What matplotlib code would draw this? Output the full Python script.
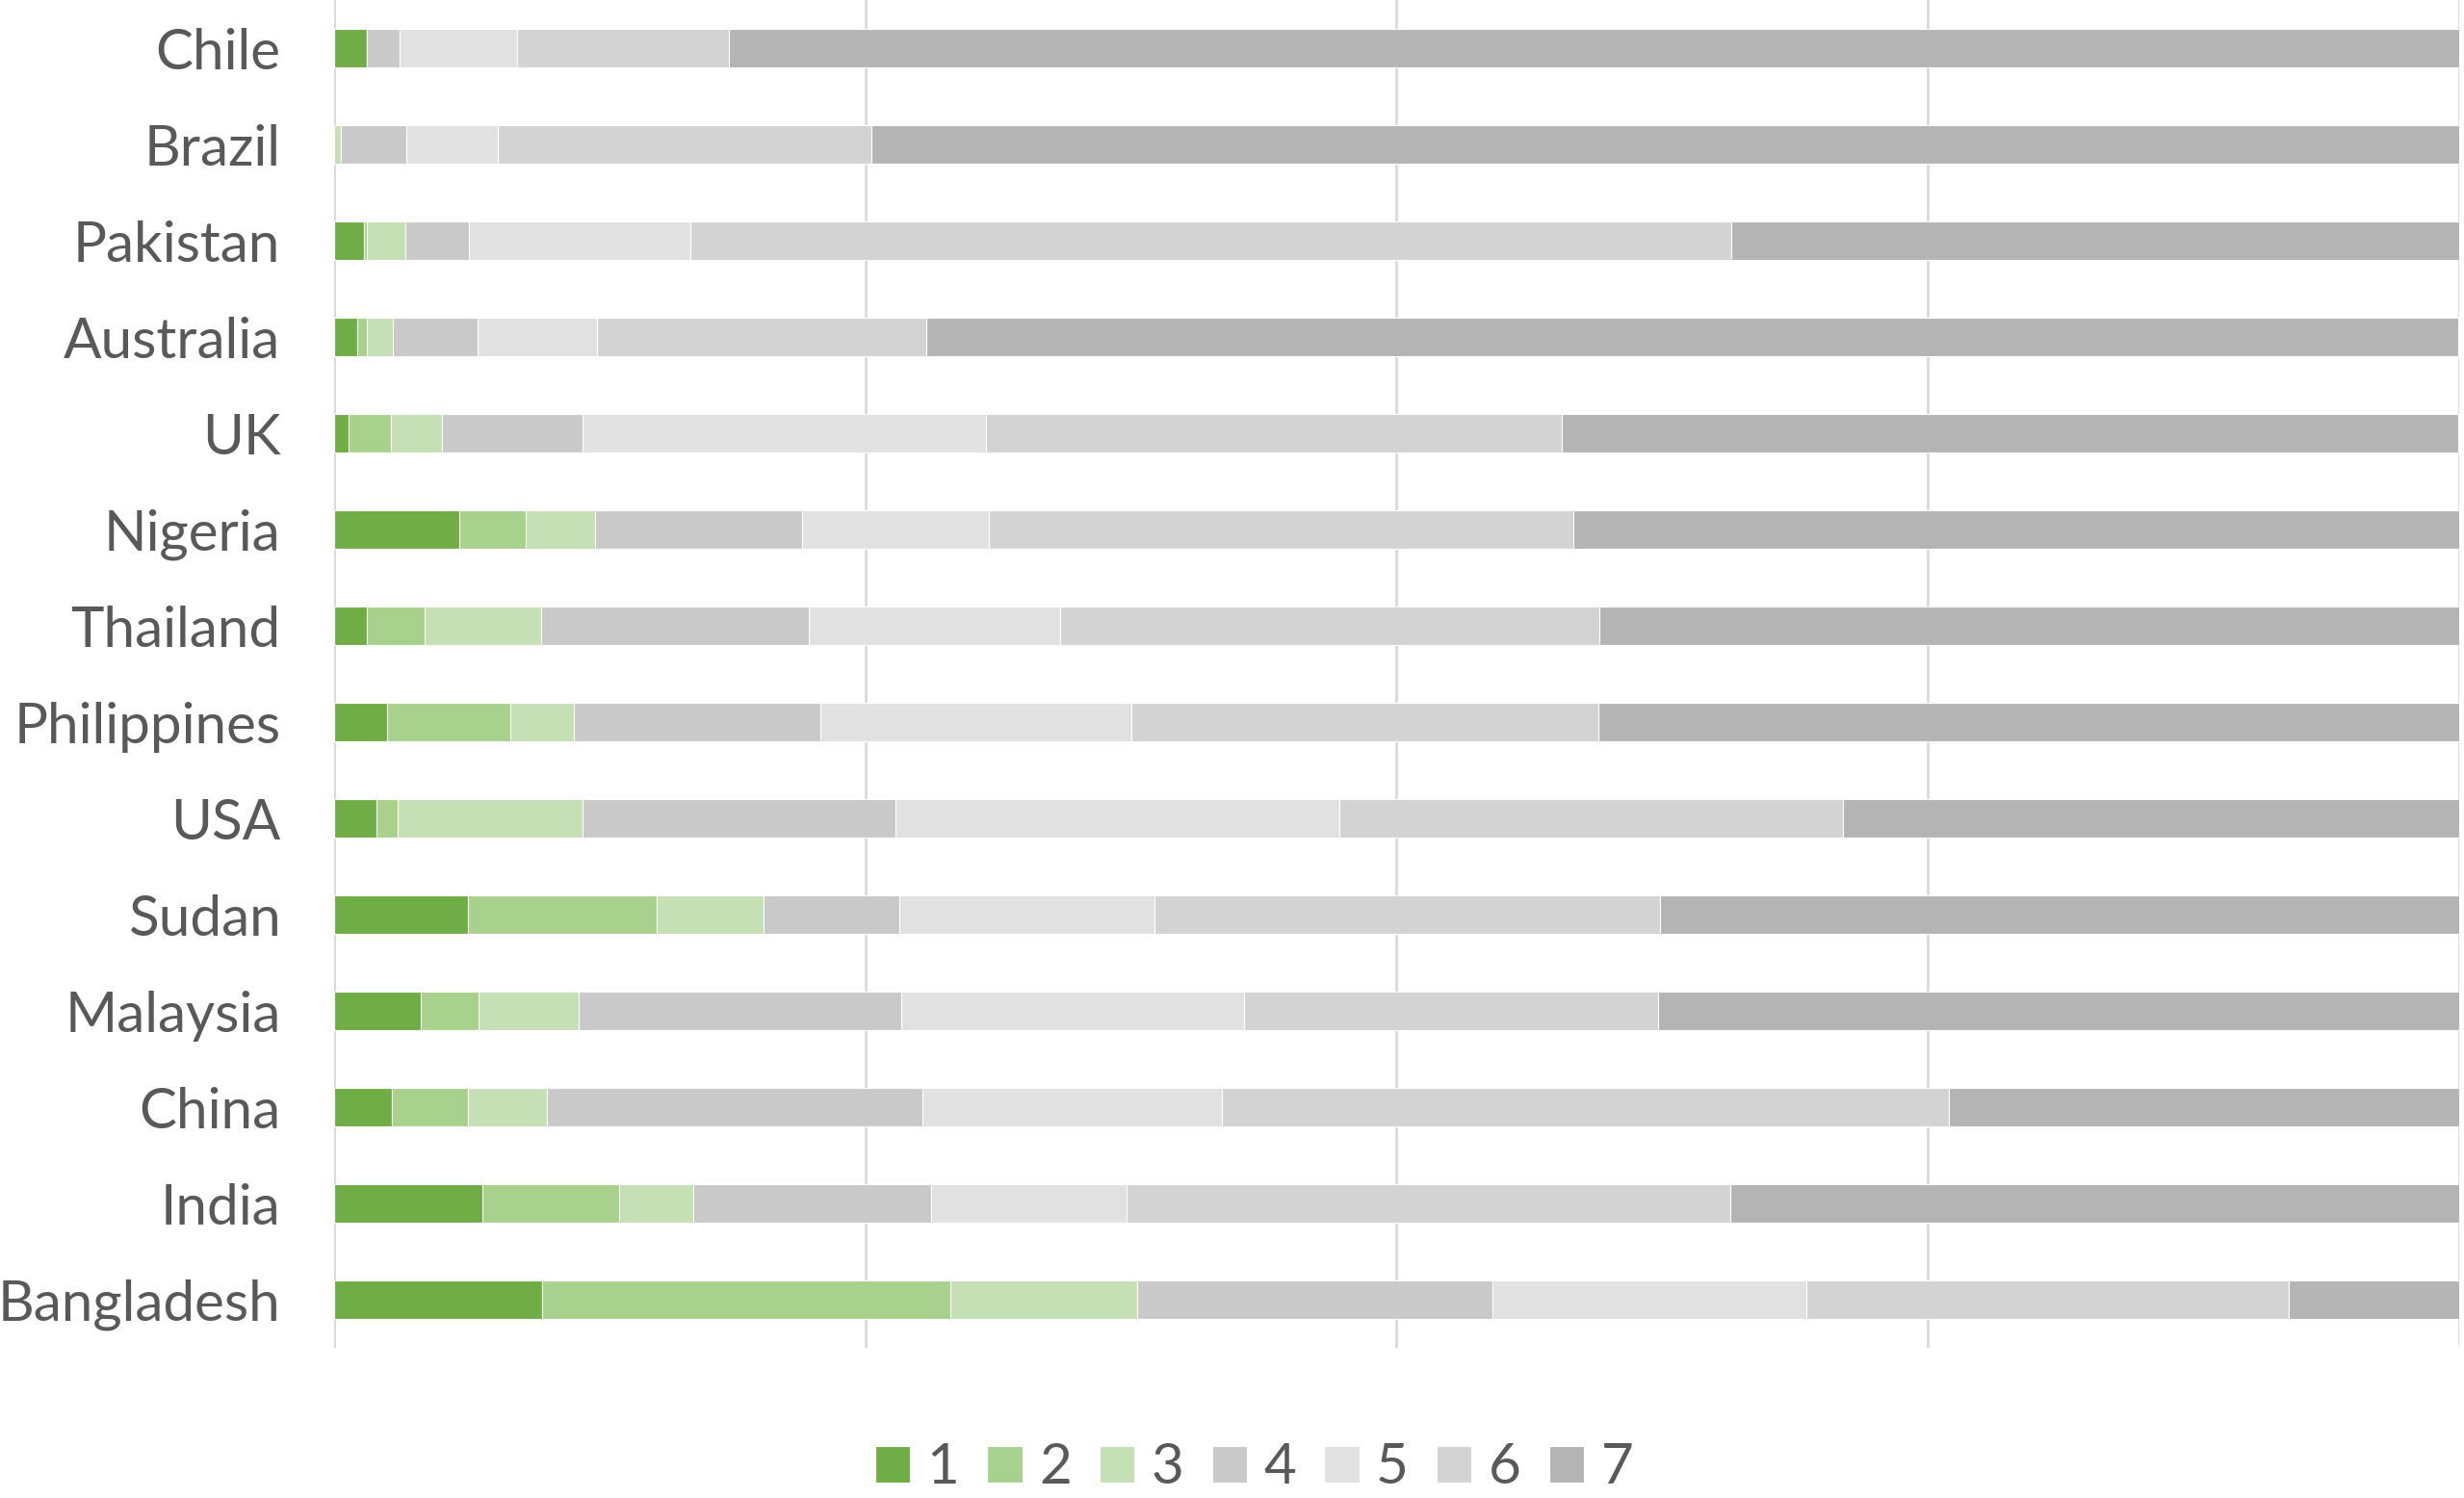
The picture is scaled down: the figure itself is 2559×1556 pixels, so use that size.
import numpy as np
import matplotlib
matplotlib.use("Agg")
import matplotlib.pyplot as plt

countries = ["Chile", "Brazil", "Pakistan", "Australia", "UK", "Nigeria", "Thailand",
             "Philippines", "USA", "Sudan", "Malaysia", "China", "India", "Bangladesh"]
levels = ["1", "2", "3", "4", "5", "6", "7"]

s1 = [1.55, 0.0, 1.4, 1.1, 0.67, 5.9, 1.55, 2.5, 2.0, 6.3, 4.1, 2.7, 7.0, 9.8]
s2 = [0.0, 0.0, 0.15, 0.45, 2.0, 3.1, 2.7, 5.8, 1.0, 8.9, 2.7, 3.6, 6.4, 19.2]
s3 = [0.0, 0.3, 1.8, 1.2, 2.4, 3.3, 5.5, 3.0, 8.7, 5.0, 4.7, 3.7, 3.5, 8.8]
s4 = [1.55, 3.1, 3.0, 4.0, 6.6, 9.7, 12.6, 11.6, 14.7, 6.4, 15.2, 17.7, 11.2, 16.7]
s5 = [5.5, 4.3, 10.4, 5.6, 19.0, 8.8, 11.8, 14.6, 20.9, 12.0, 16.1, 14.1, 9.2, 14.8]
s6 = [10.0, 17.6, 49.0, 15.5, 27.1, 27.5, 25.4, 22.0, 23.7, 23.8, 19.5, 34.2, 28.4, 22.7]
s7 = [81.4, 74.7, 34.3, 72.1, 42.2, 41.7, 40.5, 40.5, 29.0, 37.6, 37.7, 24.0, 34.3, 8.0]

colors = ["#70ad47", "#a9d18e", "#c5e0b4", "#c9c9c9", "#e1e1e1", "#d3d3d3", "#b4b4b4"]
text_col = "#595959"

plt.rcParams["font.family"] = ["Lato", "DejaVu Sans"]

fig = plt.figure(figsize=(25.59, 15.56), dpi=100)
ax = fig.add_axes([0.1356, 0.1, 0.8624, 0.9])

y = np.arange(len(countries))
left = np.zeros(len(countries))
for name, vals, c in zip(levels, [s1, s2, s3, s4, s5, s6, s7], colors):
    ax.barh(y, vals, left=left, height=0.4, color=c, edgecolor="white",
            linewidth=0.8, label=name, zorder=3)
    left += np.array(vals)

ax.set_xlim(0, 100)
ax.set_ylim(13.5, -0.5)
ax.set_xticks([0, 25, 50, 75, 100])
ax.set_xticklabels([])
ax.tick_params(axis="x", length=0)
ax.tick_params(axis="y", length=0, pad=40, labelsize=42, labelcolor=text_col)
ax.set_yticks(y)
ax.set_yticklabels(countries)
ax.grid(axis="x", color="#d9d9d9", linewidth=2.0, zorder=0)
for s in ax.spines.values():
    s.set_visible(False)

ax.legend(loc="center", bbox_to_anchor=(0.509, 0.02), bbox_transform=fig.transFigure,
          ncol=7, frameon=False, fontsize=42, labelcolor=text_col,
          handlelength=0.62, handleheight=0.62, handletextpad=0.3, columnspacing=0.5,
          borderpad=0.0)

fig.savefig("out.png", dpi=100)
